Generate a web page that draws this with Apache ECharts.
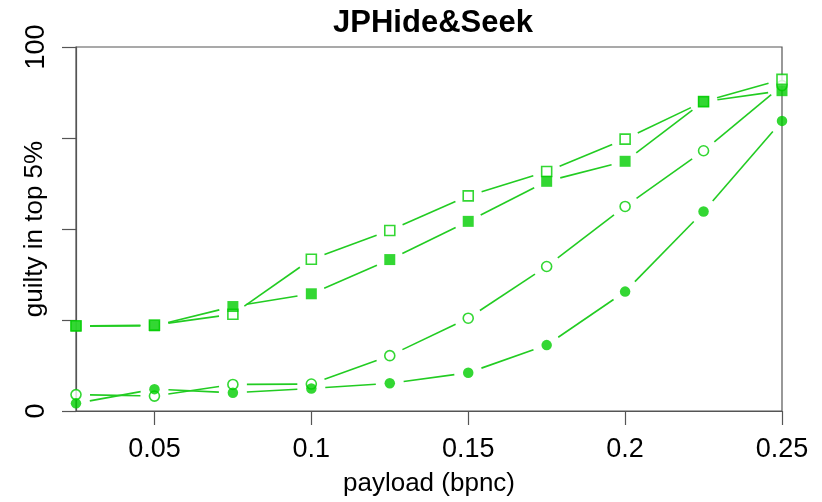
<!DOCTYPE html>
<html>
<head>
<meta charset="utf-8">
<script src="https://cdn.jsdelivr.net/npm/echarts@6/dist/echarts.min.js"></script>
<style>
  html, body { margin: 0; padding: 0; background: #fff; }
  #chart { width: 822px; height: 502px; }
</style>
</head>
<body>
<div id="chart"></div>
<script>
// Payload rates (bits per non-zero coefficient)
const payload = [0.025, 0.05, 0.075, 0.1, 0.125, 0.15, 0.175, 0.2, 0.225, 0.25];
const xTicks = [0.05, 0.1, 0.15, 0.2, 0.25];
const yTickLabels = [0, 100];

// Percentage of guilty users ranked in the top 5%
const openSquares   = [23.4, 23.6, 26.6, 41.7, 49.6, 59.1, 65.8, 74.7, 85.0, 91.1];
const filledSquares = [23.3, 23.4, 28.7, 32.2, 41.6, 52.1, 63.1, 68.6, 85.0, 88.0];
const openCircles   = [4.5, 4.1, 7.3, 7.4, 15.2, 25.5, 39.7, 56.2, 71.5, 89.4];
const filledCircles = [2.1, 6.0, 5.0, 6.2, 7.6, 10.5, 18.1, 32.8, 54.8, 79.7];

const GREEN = '#00cd00';
const LINE_GREEN = '#22cc22';
const FONT = '"Liberation Sans", Arial, Helvetica, sans-serif';
const GAP = 14; // space left around each point, like R's type = "b"

function points(ys) {
  return payload.map((x, i) => [x, ys[i]]);
}

function segments(ys) {
  const out = [];
  for (let i = 0; i < payload.length - 1; i++) {
    out.push([payload[i], ys[i], payload[i + 1], ys[i + 1]]);
  }
  return out;
}

function renderSegment(params, api) {
  const a = api.coord([api.value(0), api.value(1)]);
  const b = api.coord([api.value(2), api.value(3)]);
  const dx = b[0] - a[0], dy = b[1] - a[1];
  const len = Math.sqrt(dx * dx + dy * dy);
  if (len <= 2 * GAP) return null;
  const ux = dx / len, uy = dy / len;
  return {
    type: 'line',
    shape: {
      x1: a[0] + ux * GAP, y1: a[1] + uy * GAP,
      x2: b[0] - ux * GAP, y2: b[1] - uy * GAP
    },
    style: { stroke: LINE_GREEN, lineWidth: 1.6 }
  };
}

function lineSeries(ys) {
  return {
    type: 'custom',
    renderItem: renderSegment,
    data: segments(ys),
    encode: { x: [0, 2], y: [1, 3] },
    silent: true,
    z: 1
  };
}

function markerSeries(ys, symbol, size, filled, z) {
  return {
    type: 'scatter',
    data: points(ys),
    symbol: symbol,
    symbolSize: size,
    itemStyle: filled
      ? { color: GREEN }
      : { color: '#ffffff', borderColor: GREEN, borderWidth: 1.6 },
    z: z
  };
}

const chart = echarts.init(document.getElementById('chart'), null, { renderer: 'canvas' });

chart.setOption({
  animation: false,
  backgroundColor: '#ffffff',
  title: {
    text: 'JPHide&Seek',
    left: 428,
    textAlign: 'center',
    top: 3,
    textStyle: { fontFamily: FONT, fontWeight: 'bold', fontSize: 31, color: '#000' }
  },
  grid: {
    left: 76, right: 40, top: 47, bottom: 91,
    containLabel: false,
    outerBoundsMode: 'none',
    show: true, borderColor: '#555', borderWidth: 1.2
  },
  xAxis: {
    type: 'value',
    min: 0.025,
    max: 0.25,
    name: 'payload (bpnc)',
    nameLocation: 'middle',
    nameGap: 60,
    nameMoveOverlap: false,
    nameTextStyle: { fontFamily: FONT, fontSize: 26, color: '#000' },
    axisLine: { show: true, onZero: false, lineStyle: { color: '#555', width: 1.2 } },
    axisTick: {
      show: true, inside: false, length: 14,
      customValues: xTicks,
      lineStyle: { color: '#555', width: 1.2 }
    },
    axisLabel: {
      customValues: xTicks,
      margin: 25,
      fontFamily: FONT, fontSize: 27, color: '#000',
      formatter: v => String(+v.toFixed(3))
    },
    splitLine: { show: false }
  },
  yAxis: {
    type: 'value',
    min: 0,
    max: 100,
    interval: 25,
    name: 'guilty in top 5%',
    nameLocation: 'middle',
    nameGap: 28,
    nameRotate: 90,
    nameMoveOverlap: false,
    nameTextStyle: { fontFamily: FONT, fontSize: 26, color: '#000' },
    axisLine: { show: true, lineStyle: { color: '#555', width: 1.2 } },
    axisTick: { show: true, length: 14, lineStyle: { color: '#555', width: 1.2 } },
    axisLabel: {
      rotate: 90,
      margin: 26,
      fontFamily: FONT, fontSize: 27, color: '#000',
      formatter: v => (yTickLabels.indexOf(v) >= 0 ? String(v) : '')
    },
    splitLine: { show: false }
  },
  series: [
    lineSeries(openSquares),
    lineSeries(filledSquares),
    lineSeries(openCircles),
    lineSeries(filledCircles),
    markerSeries(openCircles, 'circle', 10, false, 3),
    markerSeries(filledCircles, 'circle', 10.5, true, 4),
    markerSeries(openSquares, 'rect', 10, false, 5),
    markerSeries(filledSquares, 'rect', 11, true, 6)
  ]
});
</script>
</body>
</html>
